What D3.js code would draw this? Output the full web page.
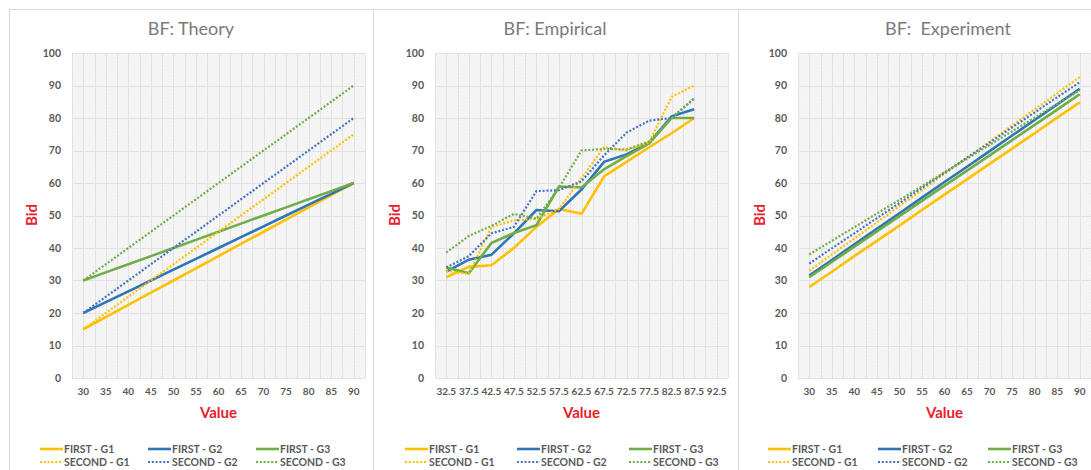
<!DOCTYPE html>
<html>
<head>
<meta charset="utf-8">
<script src="https://d3js.org/d3.v7.min.js"></script>
<style>
  body { margin: 0; background: #fff; }
  svg { font-family: Lato, "Open Sans", sans-serif; }
</style>
</head>
<body>
<svg id="chart" width="1091" height="470"></svg>
<script>
// ---- data ----
var seriesNames = ["FIRST - G1", "FIRST - G2", "FIRST - G3", "SECOND - G1", "SECOND - G2", "SECOND - G3"];
var yTicks = [0, 10, 20, 30, 40, 50, 60, 70, 80, 90, 100];

var theoryCats = ["30", "35", "40", "45", "50", "55", "60", "65", "70", "75", "80", "85", "90"];
var theoryFirstG1 = [15, 18.75, 22.5, 26.25, 30, 33.75, 37.5, 41.25, 45, 48.75, 52.5, 56.25, 60];
var theoryFirstG2 = [20, 23.33, 26.67, 30, 33.33, 36.67, 40, 43.33, 46.67, 50, 53.33, 56.67, 60];
var theoryFirstG3 = [30, 32.5, 35, 37.5, 40, 42.5, 45, 47.5, 50, 52.5, 55, 57.5, 60];
var theorySecondG1 = [15, 20, 25, 30, 35, 40, 45, 50, 55, 60, 65, 70, 75];
var theorySecondG2 = [20, 25, 30, 35, 40, 45, 50, 55, 60, 65, 70, 75, 80];
var theorySecondG3 = [30, 35, 40, 45, 50, 55, 60, 65, 70, 75, 80, 85, 90];

var empCats = ["32.5", "37.5", "42.5", "47.5", "52.5", "57.5", "62.5", "67.5", "72.5", "77.5", "82.5", "87.5", "92.5"];
var empFirstG1 = [31, 34.2, 34.7, 40, 46.5, 52, 50.5, 62, 66.5, 71, 75.3, 80];
var empFirstG2 = [32.7, 36.4, 37.9, 44.5, 51.7, 51.3, 58, 66.5, 68.8, 72.3, 80.5, 82.7];
var empFirstG3 = [34, 32.2, 41.5, 44.6, 47, 58.9, 58.6, 64.2, 68.3, 72.2, 80, 80];
var empSecondG1 = [33, 32, 46.5, 48.5, 49, 52, 61.5, 71, 70, 72.5, 86.5, 90];
var empSecondG2 = [34, 37.5, 44.5, 46.5, 57.5, 57.8, 60.5, 68.5, 75.5, 79.2, 80, 86];
var empSecondG3 = [38.6, 43.7, 46.8, 50.5, 49, 58.5, 70, 70.5, 70.3, 72.8, 80, 86];

var expCats = ["30", "35", "40", "45", "50", "55", "60", "65", "70", "75", "80", "85", "90"];
var expFirstG1 = [28.0, 32.7, 37.5, 42.2, 46.9, 51.7, 56.4, 61.1, 65.9, 70.6, 75.3, 80.1, 84.8];
var expFirstG2 = [31.5, 36.3, 41.1, 45.9, 50.7, 55.5, 60.3, 65.0, 69.8, 74.6, 79.4, 84.2, 89.0];
var expFirstG3 = [31.0, 35.7, 40.4, 45.1, 49.8, 54.5, 59.2, 63.8, 68.5, 73.2, 77.9, 82.6, 87.3];
var expSecondG1 = [33.0, 38.0, 42.9, 47.9, 52.9, 57.8, 62.8, 67.8, 72.7, 77.7, 82.7, 87.6, 92.6];
var expSecondG2 = [35.2, 39.9, 44.5, 49.2, 53.8, 58.5, 63.1, 67.8, 72.4, 77.1, 81.7, 86.4, 91.0];
var expSecondG3 = [38.0, 42.2, 46.4, 50.6, 54.8, 59.0, 63.3, 67.5, 71.7, 75.9, 80.1, 84.3, 88.5];

// ---- styling ----
var colors = ["#FFC000", "#2E75B6", "#70AD47", "#FFC000", "#4472C4", "#70AD47"];
var dotted = [false, false, false, true, true, true];

var svg = d3.select("#chart");

var defs = svg.append("defs");
var pat = defs.append("pattern")
  .attr("id", "hatch")
  .attr("width", 2.5).attr("height", 2.5)
  .attr("patternUnits", "userSpaceOnUse")
  .attr("patternTransform", "rotate(45)");
pat.append("rect").attr("width", 2.5).attr("height", 2.5).attr("fill", "#f7f7f7");
pat.append("line").attr("x1", 0).attr("y1", 0).attr("x2", 0).attr("y2", 2.5)
  .attr("stroke", "#ebebeb").attr("stroke-width", 1.1);

var panels = [
  { title: "BF: Theory", cats: theoryCats,
    data: [theoryFirstG1, theoryFirstG2, theoryFirstG3, theorySecondG1, theorySecondG2, theorySecondG3],
    box: 9, boxW: 364, plotX: 72, titleX: 191, bidX: 32, legX: 40, legStep: 108 },
  { title: "BF: Empirical", cats: empCats,
    data: [empFirstG1, empFirstG2, empFirstG3, empSecondG1, empSecondG2, empSecondG3],
    box: 373, boxW: 365, plotX: 435, titleX: 555, bidX: 395, legX: 405, legStep: 112 },
  { title: "BF:  Experiment", cats: expCats,
    data: [expFirstG1, expFirstG2, expFirstG3, expSecondG1, expSecondG2, expSecondG3],
    box: 738, boxW: 420, plotX: 798, titleX: 948, bidX: 760, legX: 768, legStep: 110 }
];

var plotW = 293, plotTop = 53, plotBottom = 378;

panels.forEach(function(p) {
  var g = svg.append("g");

  g.append("rect")
    .attr("x", p.box + 0.5).attr("y", 9.5)
    .attr("width", p.boxW).attr("height", 500)
    .attr("fill", "#fff").attr("stroke", "#d9d9d9");

  var x = d3.scaleBand().domain(p.cats).range([p.plotX, p.plotX + plotW]);
  var y = d3.scaleLinear().domain([0, 100]).range([plotBottom, plotTop]);
  var bw = x.bandwidth();

  g.append("rect")
    .attr("x", p.plotX).attr("y", plotTop)
    .attr("width", plotW).attr("height", plotBottom - plotTop)
    .attr("fill", "url(#hatch)");

  // vertical gridlines at band edges and centres
  var vx = [];
  p.cats.forEach(function(c) { vx.push(x(c)); vx.push(x(c) + bw / 2); });
  vx.push(p.plotX + plotW);
  g.selectAll(".vg").data(vx).enter().append("line")
    .attr("x1", function(d) { return Math.round(d) + 0.5; })
    .attr("x2", function(d) { return Math.round(d) + 0.5; })
    .attr("y1", plotTop).attr("y2", plotBottom)
    .attr("stroke", "#e2e2e2").attr("stroke-width", 1);

  g.selectAll(".hg").data(yTicks).enter().append("line")
    .attr("x1", p.plotX).attr("x2", p.plotX + plotW)
    .attr("y1", function(d) { return Math.round(y(d)) + 0.5; })
    .attr("y2", function(d) { return Math.round(y(d)) + 0.5; })
    .attr("stroke", "#e2e2e2").attr("stroke-width", 1);

  // axes
  var yAxis = d3.axisLeft(y).tickValues(yTicks).tickSize(0).tickPadding(11);
  var ya = g.append("g").attr("transform", "translate(" + p.plotX + ",0)").call(yAxis);
  var xAxis = d3.axisBottom(x).tickSize(0).tickPadding(10);
  var xa = g.append("g").attr("transform", "translate(0," + plotBottom + ")").call(xAxis);
  [ya, xa].forEach(function(a) {
    a.select(".domain").remove();
    a.selectAll("text").attr("fill", "#595959").attr("font-size", "10.5px")
      .attr("font-weight", "bold").attr("font-family", "Lato, sans-serif");
  });
  xa.selectAll("text").attr("font-size", "10px");

  // lines
  var line = d3.line()
    .x(function(d, i) { return x(p.cats[i]) + bw / 2; })
    .y(function(d) { return y(d); });
  p.data.forEach(function(vals, k) {
    g.append("path")
      .attr("d", line(vals))
      .attr("fill", "none")
      .attr("stroke", colors[k])
      .attr("stroke-width", dotted[k] ? 2.2 : 2.6)
      .attr("stroke-dasharray", dotted[k] ? "2,1.8" : null);
  });

  // titles
  g.append("text")
    .attr("x", p.titleX).attr("y", 35)
    .attr("text-anchor", "middle")
    .attr("font-size", "18px").attr("fill", "#7a7a7a")
    .style("white-space", "pre")
    .text(p.title);

  g.append("text")
    .attr("transform", "translate(" + (p.bidX + 5) + "," + 215 + ") rotate(-90)")
    .attr("text-anchor", "middle")
    .attr("font-size", "15px").attr("font-weight", "bold").attr("fill", "#E8202A")
    .text("Bid");

  g.append("text")
    .attr("x", p.plotX + plotW / 2).attr("y", 418)
    .attr("text-anchor", "middle")
    .attr("font-size", "15px").attr("font-weight", "bold").attr("fill", "#E8202A")
    .text("Value");

  // legend
  seriesNames.forEach(function(name, k) {
    var lx = p.legX + (k % 3) * p.legStep;
    var ly = k < 3 ? 449 : 462;
    g.append("line")
      .attr("x1", lx).attr("x2", lx + 23)
      .attr("y1", ly).attr("y2", ly)
      .attr("stroke", colors[k])
      .attr("stroke-width", dotted[k] ? 2.2 : 2.6)
      .attr("stroke-dasharray", dotted[k] ? "2,1.8" : null);
    g.append("text")
      .attr("x", lx + 24).attr("y", ly + 3.8)
      .attr("font-size", "10.5px").attr("font-weight", "bold").attr("fill", "#595959")
      .text(name);
  });
});
</script>
</body>
</html>
